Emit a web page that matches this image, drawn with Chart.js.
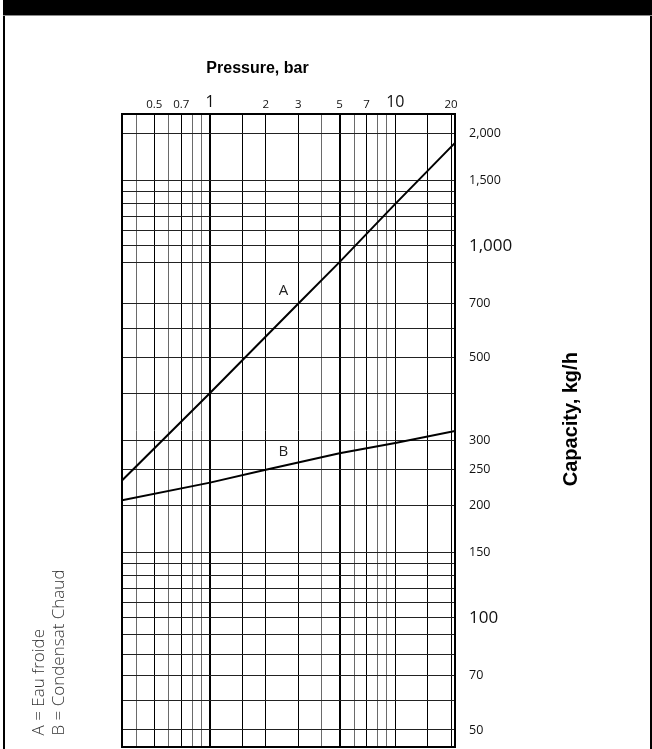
<!DOCTYPE html>
<html>
<head>
<meta charset="utf-8">
<script src="https://cdn.jsdelivr.net/npm/chart.js@4.4.0/dist/chart.umd.min.js"></script>
<style>
  html, body { margin: 0; padding: 0; background: #fff; overflow: hidden; }
  body { width: 652px; height: 749px; position: relative; }
  #header { position: absolute; left: 3px; top: 0; width: 649px; height: 15px; background: #000; border-bottom: 1px solid #8a8a8a; }
  #panel { position: absolute; left: 3px; top: 16px; width: 645px; height: 733px; border-left: 2px solid #000; border-right: 2px solid #000; }
  #chart { position: absolute; left: 0; top: 0; }
</style>
</head>
<body>
<div id="header"></div>
<div id="panel"></div>
<canvas id="chart" width="652" height="749"></canvas>
<script>
// Asse x: pressione (bar), scala logaritmica in alto
const pressureMin = 0.335;
const pressureMax = 21;
const pressureTicks = [0.4, 0.5, 0.6, 0.7, 0.8, 0.9, 1, 1.5, 2, 3, 4, 5, 6, 7, 8, 9, 10, 15, 20];
const pressureLabels = { 0.5: '0.5', 0.7: '0.7', 1: '1', 2: '2', 3: '3', 5: '5', 7: '7', 10: '10', 20: '20' };

// Asse y: portata (kg/h), scala logaritmica a destra
const capacityMin = 45;
const capacityMax = 2260;
const capacityTicks = [45, 50, 60, 70, 80, 90, 100, 110, 120, 130, 140, 150, 200, 250, 300, 400,
  500, 600, 700, 900, 1000, 1100, 1200, 1300, 1400, 1500, 2000];
const capacityLabels = { 50: '50', 70: '70', 100: '100', 150: '150', 200: '200', 250: '250', 300: '300',
  500: '500', 700: '700', 1000: '1,000', 1500: '1,500', 2000: '2,000' };
const bigLabels = [1, 10, 100, 1000];

// Curva A = Eau froide
const pressureA = [0.335, 1, 3, 5, 10, 21];
const capacityA = [234, 402, 700, 904, 1296, 1890];
// Curva B = Condensat Chaud
const pressureB = [0.335, 1, 2, 5, 10, 21];
const capacityB = [207, 231, 250, 277, 295, 318];

// Posizione delle lettere sulle curve (in valori degli assi)
const curveTags = [
  { text: 'A', x: 2.49, y: 759 },
  { text: 'B', x: 2.49, y: 279 }
];
const legendLines = ['A = Eau froide', 'B = Condensat Chaud'];

const FONT = '"Open Sans", sans-serif';

// linee della griglia verticale: più spesse a 1 e 5, grigie quelle secondarie
const xThick = [1, 5];
const xGrey = [0.4, 0.6, 0.8, 0.9, 4, 6, 8, 9];

const toPoints = (xs, ys) => xs.map((x, i) => ({ x: x, y: ys[i] }));

const decorations = {
  id: 'decorations',
  afterDraw(chart) {
    const { ctx, chartArea: a, scales } = chart;
    ctx.save();
    // bordo dell'area del grafico
    ctx.strokeStyle = '#000';
    ctx.lineWidth = 2;
    ctx.strokeRect(a.left, a.top, a.right - a.left, a.bottom - a.top);

    // lettere A e B
    ctx.fillStyle = '#222';
    ctx.font = '15px ' + FONT;
    ctx.textAlign = 'center';
    ctx.textBaseline = 'middle';
    curveTags.forEach(t => {
      ctx.fillText(t.text, scales.x.getPixelForValue(t.x), scales.y.getPixelForValue(t.y));
    });

    // titoli degli assi
    ctx.fillStyle = '#000';
    ctx.font = 'bold 16px "Liberation Sans", sans-serif';
    ctx.textBaseline = 'alphabetic';
    ctx.fillText('Pressure, bar', 257.5, 72.5);

    ctx.save();
    ctx.translate(577.3, 419.2);
    ctx.rotate(-Math.PI / 2);
    ctx.font = 'bold 20px "Liberation Sans", sans-serif';
    ctx.fillText('Capacity, kg/h', 0, 0);
    ctx.restore();

    // legenda verticale a sinistra
    ctx.fillStyle = '#333';
    ctx.font = '300 17px ' + FONT;
    ctx.textAlign = 'left';
    legendLines.forEach((line, i) => {
      ctx.save();
      ctx.translate(43.5 + i * 20, 735.5);
      ctx.rotate(-Math.PI / 2);
      ctx.fillText(line, 0, 0);
      ctx.restore();
    });
    ctx.restore();
  }
};

new Chart(document.getElementById('chart'), {
  type: 'line',
  data: {
    datasets: [
      { label: 'A', data: toPoints(pressureA, capacityA) },
      { label: 'B', data: toPoints(pressureB, capacityB) }
    ]
  },
  options: {
    responsive: false,
    animation: false,
    layout: { padding: { left: 122, top: 94, right: 137, bottom: 2 } },
    elements: {
      line: { borderColor: '#000', borderWidth: 2, tension: 0 },
      point: { radius: 0 }
    },
    plugins: { legend: { display: false }, tooltip: { enabled: false } },
    scales: {
      x: {
        type: 'logarithmic',
        position: 'top',
        bounds: 'data',
        min: pressureMin,
        max: pressureMax,
        afterBuildTicks: s => { s.ticks = pressureTicks.map(v => ({ value: v })); },
        afterFit: s => { s.height = 20; },
        border: { display: false },
        grid: {
          drawTicks: false,
          color: c => (c.tick && xGrey.includes(c.tick.value)) ? '#6a6a6a' : '#000',
          lineWidth: c => (c.tick && xThick.includes(c.tick.value)) ? 2 : 1
        },
        ticks: {
          autoSkip: false,
          maxRotation: 0,
          padding: 2,
          color: '#111',
          font: c => {
            const v = c.tick ? c.tick.value : 0;
            if (!pressureLabels[v]) return { family: FONT, size: 1 };
            return { family: FONT, size: bigLabels.includes(v) ? 16 : 11.5 };
          },
          callback: v => pressureLabels[v] || ''
        }
      },
      y: {
        type: 'logarithmic',
        position: 'right',
        bounds: 'data',
        min: capacityMin,
        max: capacityMax,
        afterBuildTicks: s => { s.ticks = capacityTicks.map(v => ({ value: v })); },
        afterFit: s => { s.width = 60; },
        border: { display: false },
        grid: {
          drawTicks: true,
          tickLength: 14,
          tickColor: 'rgba(0,0,0,0)',
          color: '#222',
          lineWidth: 1
        },
        ticks: {
          autoSkip: false,
          padding: 0,
          color: '#111',
          font: c => {
            const v = c.tick ? c.tick.value : 0;
            if (!capacityLabels[v]) return { family: FONT, size: 1 };
            return { family: FONT, size: bigLabels.includes(v) ? 17 : 12.5 };
          },
          callback: v => capacityLabels[v] || ''
        }
      }
    }
  },
  plugins: [decorations]
});
</script>
</body>
</html>
